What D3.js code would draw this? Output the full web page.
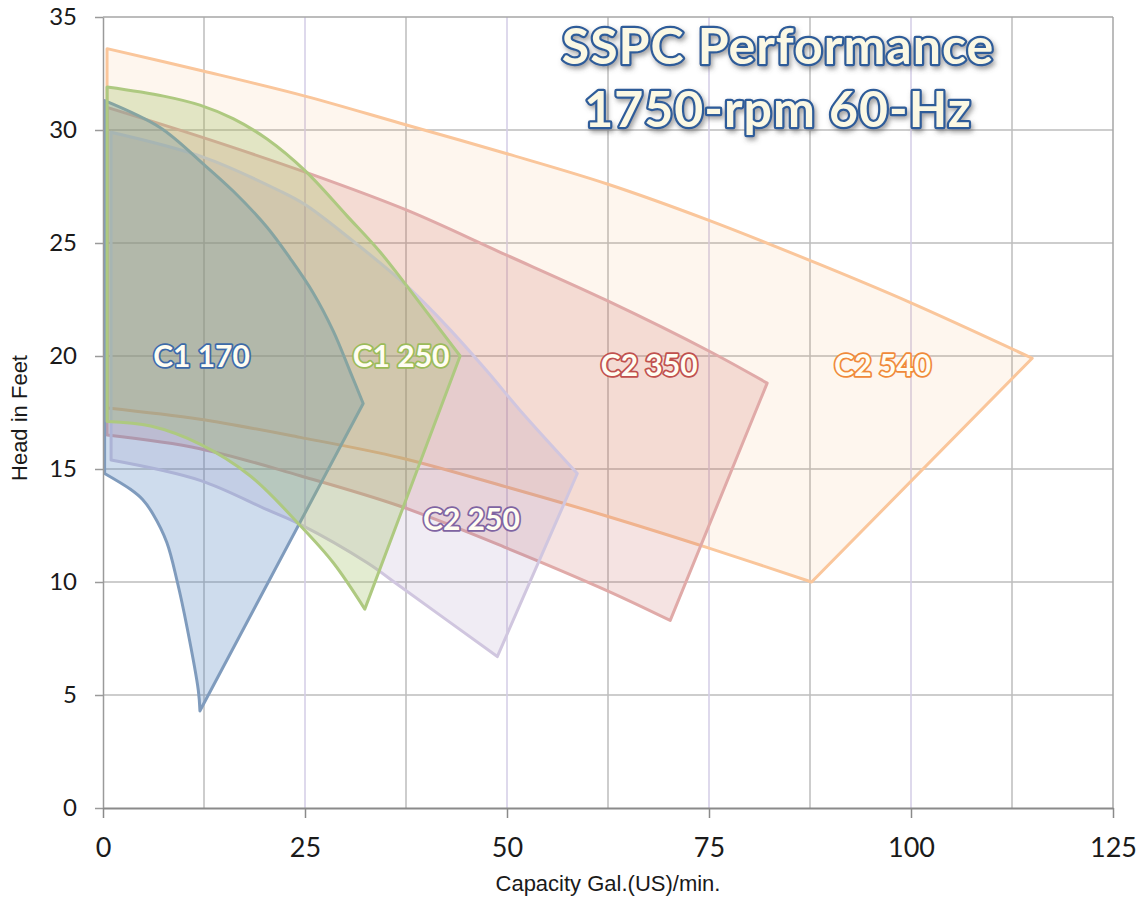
<!DOCTYPE html>
<html>
<head>
<meta charset="utf-8">
<script src="https://cdn.jsdelivr.net/npm/d3@7"></script>
<style>
body { margin: 0; background: #fff; }
</style>
</head>
<body>
<script>
// Pump envelopes: upper curve and lower curve, each [capacity, head] from Q=0 outwards
var c2_540_upper = [[0.5, 33.6], [12.5, 32.6], [25, 31.5], [36.8, 30.3], [50, 28.95], [62.5, 27.6], [75, 26.0], [88.7, 24.05], [100, 22.35], [115, 19.9]];
var c2_540_lower = [[0.5, 17.7], [12, 17.2], [24.4, 16.4], [36.8, 15.5], [50, 14.2], [62.5, 12.9], [75, 11.5], [87.7, 10.0]];

var c2_350_upper = [[0.5, 31.0], [12.5, 29.65], [25.3, 28.1], [37.6, 26.45], [49.1, 24.6], [62.4, 22.45], [75.1, 20.2], [82.2, 18.8]];
var c2_350_lower = [[0.5, 16.5], [12, 15.9], [24.4, 14.7], [36.8, 13.35], [50, 11.5], [62.5, 9.6], [70.2, 8.3]];

var c2_250_upper = [[1, 29.9], [12.4, 28.8], [21.9, 27.3], [25, 26.7], [30.2, 25.3], [37.6, 23.1], [42.6, 21.3], [47.6, 19.3], [51.6, 17.6], [58.7, 14.8]];
var c2_250_lower = [[1, 15.4], [12, 14.5], [20.3, 13.2], [24.4, 12.55], [32.7, 10.85], [36.8, 9.8], [48.8, 6.7]];

var c1_250_upper = [[0.5, 31.9], [7.5, 31.5], [12, 31.1], [16.1, 30.5], [20.3, 29.6], [25, 28.2], [30.2, 26.2], [34.3, 24.6], [37.6, 23.1], [44.2, 20.0]];
var c1_250_lower = [[0.5, 17.1], [5.9, 16.9], [12, 16.1], [18.2, 14.7], [24.4, 12.5], [28.5, 10.85], [32.4, 8.8]];

var c1_170_upper = [[0.2, 31.3], [7.1, 30.1], [12.4, 28.5], [16.1, 27.3], [20.3, 25.7], [23.2, 24.3], [26, 22.8], [28.5, 21.1], [30.6, 19.3], [32.2, 17.9]];
var c1_170_lower = [[0.2, 14.8], [3.4, 14.1], [4.9, 13.65], [6.2, 13.0], [7.9, 11.75], [9.2, 10.0], [10.4, 8.0], [11.8, 5.2], [12.0, 4.3]];

// labels
var label_names = ["C1 170", "C1 250", "C2 350", "C2 540", "C2 250"];
var label_x = [12.2, 36.9, 67.6, 96.5, 45.6];
var label_y = [20.0, 20.0, 19.6, 19.6, 12.8];

var x_ticks = [0, 25, 50, 75, 100, 125];
var y_ticks = [0, 5, 10, 15, 20, 25, 30, 35];

var title_lines = ["SSPC Performance", "1750-rpm 60-Hz"];

// Define margins
var margin = { top: 17, right: 33, bottom: 91, left: 103 };
var outer_width = 1146;
var outer_height = 899;
var svg_width = outer_width - margin.left - margin.right;
var svg_height = outer_height - margin.top - margin.bottom;

var root = d3.select("body")
    .append("svg")
    .attr("width", outer_width)
    .attr("height", outer_height);

var defs = root.append("defs");
var shadow = defs.append("filter")
    .attr("id", "shadow")
    .attr("x", "-10%").attr("y", "-30%")
    .attr("width", "120%").attr("height", "160%");
shadow.append("feDropShadow")
    .attr("dx", 2).attr("dy", 3)
    .attr("stdDeviation", 2.5)
    .attr("flood-color", "#555")
    .attr("flood-opacity", 0.55);

var svg = root.append("g")
    .attr("transform", "translate(" + margin.left + "," + margin.top + ")");

var xScale = d3.scaleLinear().domain([0, 125]).range([0, svg_width]);
var yScale = d3.scaleLinear().domain([0, 35]).range([svg_height, 0]);

// grid lines
var grid = svg.append("g").attr("class", "grid");
grid.selectAll("line.h")
    .data(d3.range(5, 35, 5))
    .enter().append("line")
    .attr("x1", 0).attr("x2", svg_width)
    .attr("y1", d => yScale(d)).attr("y2", d => yScale(d))
    .attr("stroke", "#bdbdbd").attr("stroke-width", 1.5);

grid.selectAll("line.v")
    .data(d3.range(12.5, 125, 12.5))
    .enter().append("line")
    .attr("x1", d => xScale(d)).attr("x2", d => xScale(d))
    .attr("y1", 0).attr("y2", svg_height)
    .attr("stroke", d => d % 25 === 0 ? "#d3cce6" : "#bdbdbd")
    .attr("stroke-width", 1.5);

// plot frame top and right
svg.append("line")
    .attr("x1", 0).attr("x2", svg_width).attr("y1", yScale(35)).attr("y2", yScale(35))
    .attr("stroke", "#a6a6a6").attr("stroke-width", 1.5);
svg.append("line")
    .attr("x1", xScale(125)).attr("x2", xScale(125)).attr("y1", 0).attr("y2", svg_height)
    .attr("stroke", "#a6a6a6").attr("stroke-width", 1.5);

// envelopes, back to front
var envelopes = [
    { upper: c2_540_upper, lower: c2_540_lower, fill: "#f79646", fo: 0.09, stroke: "#fac69b" },
    { upper: c2_350_upper, lower: c2_350_lower, fill: "#c0504d", fo: 0.16, stroke: "#e0aaa8" },
    { upper: c2_250_upper, lower: c2_250_lower, fill: "#8064a2", fo: 0.12, stroke: "#d0c6df" },
    { upper: c1_170_upper, lower: c1_170_lower, fill: "#4f81bd", fo: 0.28, stroke: "#7f9bbd" },
    { upper: c1_250_upper, lower: c1_250_lower, fill: "#9bbb59", fo: 0.28, stroke: "#aec980" }
];

// smooth upper and lower curves, straight edges between them
var curve = d3.line()
    .x(d => xScale(d[0]))
    .y(d => yScale(d[1]))
    .curve(d3.curveCatmullRom.alpha(0.5));

function envelopePath(d) {
    var top = curve(d.upper);
    var bottom = curve(d.lower.slice().reverse());
    return top + "L" + bottom.slice(1) + "Z";
}

svg.selectAll("path.envelope")
    .data(envelopes)
    .enter().append("path")
    .attr("class", "envelope")
    .attr("d", envelopePath)
    .attr("fill", d => d.fill)
    .attr("fill-opacity", d => d.fo)
    .attr("stroke", d => d.stroke)
    .attr("stroke-width", 3)
    .attr("stroke-linejoin", "round");

// axes
var yAxis = d3.axisLeft(yScale)
    .tickValues(y_ticks)
    .tickSize(8)
    .tickSizeOuter(0)
    .tickPadding(18);

var xAxis = d3.axisBottom(xScale)
    .tickValues(x_ticks)
    .tickSize(10)
    .tickSizeOuter(0)
    .tickPadding(20);

var gy = svg.append("g").attr("class", "axis").call(yAxis);
var gx = svg.append("g").attr("class", "axis")
    .attr("transform", "translate(0," + svg_height + ")")
    .call(xAxis);

gy.select(".domain").attr("stroke", "#9a9a9a").attr("stroke-width", 1.5);
gy.selectAll(".tick line").attr("stroke", "#9a9a9a").attr("stroke-width", 1.5);
gy.selectAll(".tick text")
    .attr("font-family", "Lato, 'Open Sans', sans-serif")
    .attr("font-size", 24)
    .attr("fill", "#1a1a1a");

gx.select(".domain").attr("stroke", "#8a8a8a").attr("stroke-width", 2);
gx.selectAll(".tick line").attr("stroke", "#8a8a8a").attr("stroke-width", 1.5);
gx.selectAll(".tick text")
    .attr("font-family", "Lato, 'Open Sans', sans-serif")
    .attr("font-size", 27)
    .attr("fill", "#1a1a1a");

// text label for x
root.append("text")
    .attr("x", 608)
    .attr("y", 891)
    .attr("text-anchor", "middle")
    .attr("font-family", "'Liberation Sans', Arial, sans-serif")
    .attr("font-size", 22)
    .attr("fill", "#1a1a1a")
    .text("Capacity Gal.(US)/min.");

// text label for y
root.append("text")
    .attr("transform", "translate(27,418) rotate(-90)")
    .attr("text-anchor", "middle")
    .attr("font-family", "'Liberation Sans', Arial, sans-serif")
    .attr("font-size", 22)
    .attr("fill", "#1a1a1a")
    .text("Head in Feet");

// envelope labels
var label_colors = ["#3d6aa8", "#9bbb59", "#c0504d", "#f08a3a", "#8064a2"];
svg.selectAll("text.lbl")
    .data(label_names)
    .enter().append("text")
    .attr("class", "lbl")
    .attr("x", (d, i) => xScale(label_x[i]))
    .attr("y", (d, i) => yScale(label_y[i]))
    .attr("dy", "0.36em")
    .attr("text-anchor", "middle")
    .attr("font-family", "Lato, 'Open Sans', sans-serif")
    .attr("font-weight", "bold")
    .attr("font-size", 30)
    .attr("fill", "#fffdf2")
    .attr("stroke", (d, i) => label_colors[i])
    .attr("stroke-width", 3.5)
    .attr("paint-order", "stroke")
    .attr("stroke-linejoin", "round")
    .text(d => d);

// title
root.selectAll("text.title")
    .data(title_lines)
    .enter().append("text")
    .attr("class", "title")
    .attr("x", 778)
    .attr("y", (d, i) => 64 + i * 63)
    .attr("text-anchor", "middle")
    .attr("font-family", "Lato, 'Open Sans', sans-serif")
    .attr("font-weight", "bold")
    .attr("font-size", 50)
    .attr("letter-spacing", 1)
    .attr("fill", "#fbf8e4")
    .attr("stroke", "#2e5c99")
    .attr("stroke-width", 4.5)
    .attr("paint-order", "stroke")
    .attr("stroke-linejoin", "round")
    .attr("filter", "url(#shadow)")
    .text(d => d);
</script>
</body>
</html>
